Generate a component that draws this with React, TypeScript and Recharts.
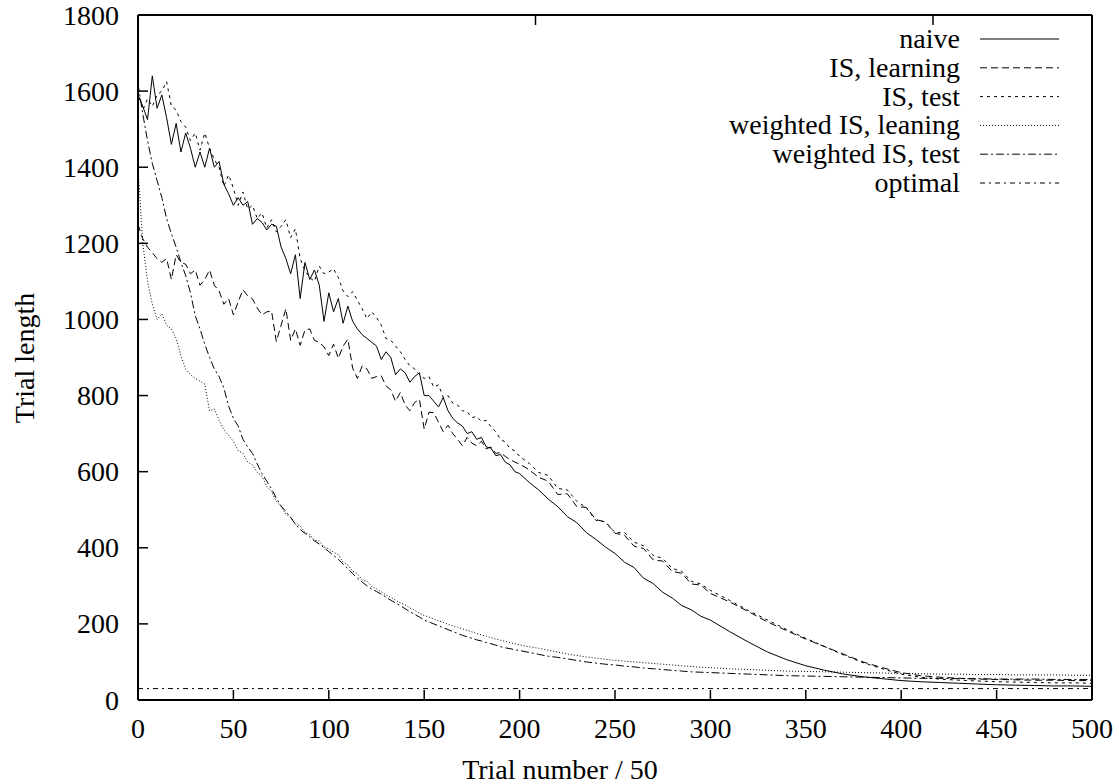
import { LineChart, Line, XAxis, YAxis, ReferenceLine, Legend, Label } from 'recharts';

// trial index / 50 (denser where the curves are noisy)
const trials = [
  0, 2.5, 5, 7.5, 10, 12.5, 15, 17.5, 20, 22.5,
  25, 27.5, 30, 32.5, 35, 37.5, 40, 42.5, 45, 47.5,
  50, 52.5, 55, 57.5, 60, 62.5, 65, 67.5, 70, 72.5,
  75, 77.5, 80, 82.5, 85, 87.5, 90, 92.5, 95, 97.5,
  100, 102.5, 105, 107.5, 110, 112.5, 115, 117.5, 120, 122.5,
  125, 127.5, 130, 132.5, 135, 137.5, 140, 142.5, 145, 147.5,
  150, 152.5, 155, 157.5, 160, 162.5, 165, 167.5, 170, 172.5,
  175, 177.5, 180, 182.5, 185, 187.5, 190, 192.5, 195, 197.5,
  200,
  205, 210, 215, 220, 225, 230, 235, 240, 245, 250,
  255, 260, 265, 270, 275, 280, 285, 290, 295, 300,
  310, 320, 330, 340, 350, 360, 370, 380, 390, 400,
  410, 420, 430, 440, 450, 460, 470, 480, 490, 500,
];

const naive = [
  1590, 1560, 1525, 1640, 1555, 1590, 1530, 1460, 1515, 1440,
  1490, 1450, 1400, 1440, 1400, 1450, 1400, 1415, 1355, 1330,
  1300, 1320, 1300, 1310, 1250, 1265, 1255, 1235, 1250, 1245,
  1190, 1160, 1120, 1170, 1055, 1150, 1105, 1130, 1090, 995,
  1070, 1020, 1055, 990, 1035, 995, 975, 960, 950, 940,
  930, 895, 915, 900, 855, 870, 860, 835, 850, 860,
  800, 800, 785, 770, 795, 760, 740, 728, 720, 700,
  705, 685, 690, 665, 662, 642, 645, 625, 618, 600,
  595,
  572, 552, 528, 508, 482, 466, 440, 422, 402, 385,
  362, 348, 320, 306, 283, 268, 248, 237, 220, 210,
  180, 152, 126, 106, 90, 78, 68, 61, 56, 51,
  48, 46, 44, 42, 40, 39, 38, 37, 37, 36,
];

const isLearning = [
  1250, 1212, 1190, 1175, 1160, 1150, 1160, 1105, 1170, 1150,
  1145, 1120, 1130, 1090, 1105, 1130, 1090, 1075, 1040, 1055,
  1012, 1046, 1078, 1062, 1054, 1030, 1012, 1020, 1022, 942,
  985, 1028, 945, 975, 932, 972, 975, 945, 940, 928,
  905, 935, 898, 930, 948, 872, 845, 878, 870, 845,
  850, 852, 825, 815, 785, 808, 775, 760, 782, 790,
  712, 756, 755, 730, 705, 722, 700, 685, 668, 690,
  675, 668, 680, 660, 665, 648, 650, 640, 632, 625,
  620,
  605, 585, 575, 540, 542, 508, 506, 474, 468, 438,
  433, 404, 398, 368, 365, 338, 333, 305, 302, 280,
  258, 232, 205, 182, 160, 140, 120, 100, 85, 72,
  64, 60, 57, 55, 54, 53, 52, 52, 51, 51,
];

const isTest = [
  1600, 1550, 1580, 1560, 1590, 1600, 1625, 1560, 1550, 1520,
  1505, 1470, 1490, 1445, 1490, 1450, 1420, 1400, 1350, 1380,
  1345, 1300, 1335, 1290, 1300, 1265, 1280, 1240, 1262, 1230,
  1245, 1262, 1215, 1238, 1160, 1128, 1110, 1100, 1140, 1120,
  1125, 1133, 1110, 1075, 1060, 1073, 1050, 1028, 1002, 1020,
  1005, 985, 950, 945, 930, 915, 895, 878, 870, 855,
  845, 850, 822, 828, 795, 800, 780, 775, 760, 758,
  742, 745, 732, 735, 718, 705, 685, 678, 660, 655,
  640,
  622, 598, 590, 556, 552, 522, 505, 472, 468, 440,
  440, 415, 405, 380, 372, 346, 338, 312, 305, 288,
  262, 235, 210, 185, 162, 140, 118, 98, 82, 68,
  60, 55, 52, 50, 48, 47, 46, 45, 45, 44,
];

const weightedLearning = [
  1400, 1200, 1100, 1040, 1000, 1015, 985, 975, 950, 905,
  870, 855, 845, 838, 830, 760, 765, 735, 710, 695,
  680, 655, 648, 625, 618, 598, 588, 560, 548, 522,
  508, 488, 480, 462, 458, 440, 435, 420, 418, 402,
  398, 388, 382, 362, 355, 338, 332, 315, 312, 298,
  292, 284, 276, 270, 262, 255, 250, 242, 236, 228,
  222, 218, 213, 208, 204, 199, 195, 191, 187, 183,
  179, 175, 171, 168, 164, 160, 157, 154, 151, 148,
  145,
  140, 136, 131, 126, 121, 117, 113, 110, 107, 104,
  102, 100, 98, 96, 94, 92, 90, 88, 86, 85,
  82, 80, 78, 76, 75, 74, 73, 72, 71, 70,
  69, 68, 68, 67, 67, 66, 66, 66, 65, 65,
];

const weightedTest = [
  1620, 1540, 1470, 1410, 1365, 1320, 1265, 1225, 1190, 1150,
  1115, 1070, 1010, 975, 935, 900, 870, 850, 820, 772,
  740, 720, 685, 665, 648, 620, 595, 575, 555, 530,
  510, 495, 480, 462, 448, 438, 428, 418, 410, 400,
  390, 380, 370, 357, 345, 332, 320, 310, 300, 292,
  285, 278, 270, 262, 255, 248, 240, 232, 225, 218,
  210, 205, 200, 195, 190, 185, 180, 175, 170, 166,
  162, 158, 155, 151, 148, 144, 140, 137, 135, 132,
  130,
  125, 120, 115, 112, 108, 104, 100, 97, 94, 92,
  89, 87, 84, 82, 80, 78, 76, 74, 73, 72,
  70, 68, 66, 64, 63, 62, 61, 60, 59, 58,
  57, 57, 56, 56, 55, 55, 55, 54, 54, 54,
];

const OPTIMAL = 30;

const xTicks = [0, 50, 100, 150, 200, 250, 300, 350, 400, 450, 500];
const yTicks = [0, 200, 400, 600, 800, 1000, 1200, 1400, 1600, 1800];

const FONT = '"Liberation Serif", "Times New Roman", serif';

const SERIES = [
  { key: 'naive', name: 'naive', dash: undefined },
  { key: 'isLearning', name: 'IS, learning', dash: '7 4' },
  { key: 'isTest', name: 'IS, test', dash: '3 4' },
  { key: 'weightedLearning', name: 'weighted IS, leaning', dash: '1 2' },
  { key: 'weightedTest', name: 'weighted IS, test', dash: '8 3 2 3' },
  { key: 'optimal', name: 'optimal', dash: '5 4 2 4' },
];

const rows = trials.map((t, i) => ({
  t,
  naive: naive[i],
  isLearning: isLearning[i],
  isTest: isTest[i],
  weightedLearning: weightedLearning[i],
  weightedTest: weightedTest[i],
}));

const BottomTick = ({ x, y, payload }: any) => (
  <g>
    <line x1={x} x2={x} y1={y} y2={y - 10} stroke="#000" strokeWidth={1.5} />
    <text x={x} y={y + 38} textAnchor="middle" fontFamily={FONT} fontSize={28} fill="#000">
      {payload.value}
    </text>
  </g>
);

const TopTick = ({ x, y }: any) => (
  <line x1={x} x2={x} y1={y} y2={y + 10} stroke="#000" strokeWidth={1.5} />
);

const LeftTick = ({ x, y, payload }: any) => (
  <g>
    <line x1={x} x2={x + 10} y1={y} y2={y} stroke="#000" strokeWidth={1.5} />
    <text x={x - 19} y={y + 9.5} textAnchor="end" fontFamily={FONT} fontSize={28} fill="#000">
      {payload.value}
    </text>
  </g>
);

const RightTick = ({ x, y }: any) => (
  <line x1={x} x2={x - 10} y1={y} y2={y} stroke="#000" strokeWidth={1.5} />
);

const LegendBox = () => (
  <svg width={400} height={190}>
    {SERIES.map((s, i) => {
      const ly = 29 + i * 28.8;
      return (
        <g key={s.key}>
          <text x={260} y={ly + 9} textAnchor="end" fontFamily={FONT} fontSize={28} fill="#000">
            {s.name}
          </text>
          <line x1={280} x2={359} y1={ly} y2={ly} stroke="#000" strokeWidth={1} strokeDasharray={s.dash} />
        </g>
      );
    })}
  </svg>
);

const axisLine = { stroke: '#000', strokeWidth: 2 };

export default function App() {
  return (
    <div style={{ position: 'absolute', left: 0, top: 0, width: 1119, height: 784, background: '#fff' }}>
      <LineChart width={1119} height={784} data={rows} margin={{ top: 5, right: 17, bottom: 0, left: 38 }}>
        <XAxis
          dataKey="t"
          type="number"
          domain={[0, 500]}
          ticks={xTicks}
          interval={0}
          height={84}
          tickSize={0}
          tickMargin={0}
          tickLine={false}
          axisLine={axisLine}
          tick={(p: any) => <BottomTick {...p} />}
          allowDataOverflow
        >
          <Label
            content={() => (
              <text x={560} y={779} textAnchor="middle" fontFamily={FONT} fontSize={28} fill="#000">
                Trial number / 50
              </text>
            )}
          />
        </XAxis>
        <XAxis
          xAxisId="top"
          orientation="top"
          type="number"
          domain={[0, 500]}
          ticks={xTicks}
          interval={0}
          height={10}
          tickSize={0}
          tickMargin={0}
          tickLine={false}
          axisLine={axisLine}
          tick={(p: any) => <TopTick {...p} />}
        />
        <YAxis
          type="number"
          domain={[0, 1800]}
          ticks={yTicks}
          interval={0}
          width={100}
          tickSize={0}
          tickMargin={0}
          tickLine={false}
          axisLine={axisLine}
          tick={(p: any) => <LeftTick {...p} />}
          allowDataOverflow
        >
          <Label
            content={() => (
              <text
                x={34}
                y={358}
                transform="rotate(-90 34 358)"
                textAnchor="middle"
                fontFamily={FONT}
                fontSize={28}
                fill="#000"
              >
                Trial length
              </text>
            )}
          />
        </YAxis>
        <YAxis
          yAxisId="right"
          orientation="right"
          type="number"
          domain={[0, 1800]}
          ticks={yTicks}
          interval={0}
          width={10}
          tickSize={0}
          tickMargin={0}
          tickLine={false}
          axisLine={axisLine}
          tick={(p: any) => <RightTick {...p} />}
        />
        <ReferenceLine y={OPTIMAL} stroke="#000" strokeWidth={1} strokeDasharray="5 4 2 4" />
        {SERIES.filter((s) => s.key !== 'optimal').map((s) => (
          <Line
            key={s.key}
            dataKey={s.key}
            type="linear"
            stroke="#000"
            strokeWidth={1}
            strokeDasharray={s.dash}
            dot={false}
            activeDot={false}
            isAnimationActive={false}
          />
        ))}
        <Legend
          layout="vertical"
          align="center"
          verticalAlign="middle"
          content={() => <LegendBox />}
          wrapperStyle={{ left: 700, top: 10, width: 400, height: 190 }}
        />
      </LineChart>
    </div>
  );
}
